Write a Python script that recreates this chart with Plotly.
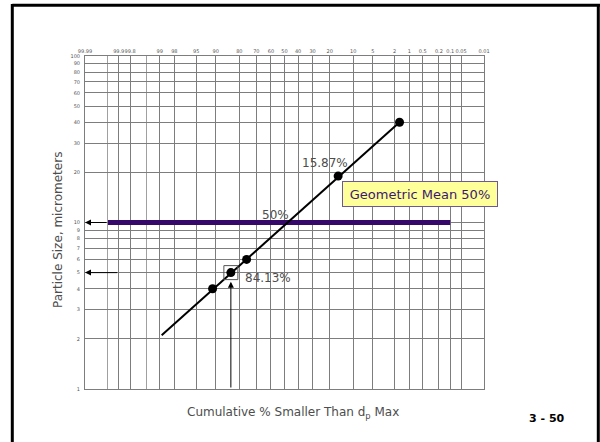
from statistics import NormalDist
import math
import plotly.graph_objects as go

# ---------------- data ----------------
x_grid_pct = [99.99, 99.9, 99.8, 99, 98, 95, 90, 80, 70, 60, 50,
              40, 30, 20, 10, 5, 2, 1, 0.5, 0.2, 0.1, 0.05, 0.01]
x_tick_labels = ["99.99", "99.9", "99.8", "99", "98", "95", "90", "80", "70", "60", "50",
                 "40", "30", "20", "10", "5", "2", "1", "0.5", "0.2", "0.1", "0.05", "0.01"]
x_minor_pct = [99.95, 99.5]
y_grid = [1, 2, 3, 4, 5, 6, 7, 8, 9, 10, 20, 30, 40, 50, 60, 70, 80, 90, 100]
y_tick_labels = [str(v) for v in y_grid]

point_pct = [91, 84.13, 76, 15.87, 1.6]
point_size = [4, 5, 6, 19, 40]
line_pct = [98.9, 1.6]
line_size = [2.1, 40]
mean_pct = [99.95, 0.1]
mean_size = [10, 10]
box_pct = [84.13]
box_size = [5]

nd = NormalDist()


def u(p):
    return nd.inv_cdf(1 - p / 100.0)


# plot area in pixels (for paper-coordinate placement of texts)
L, R, T, B = 85, 484, 56, 389
W, H = 600, 442


def px(xp):
    return (xp - L) / (R - L)


def py(yp):
    return (B - yp) / (B - T)


fig = go.Figure()

# purple geometric-mean bar
fig.add_trace(go.Scatter(x=[u(p) for p in mean_pct], y=mean_size, mode="lines",
                         line=dict(color="#36086a", width=5), hoverinfo="skip"))
# fitted line
fig.add_trace(go.Scatter(x=[u(p) for p in line_pct], y=line_size, mode="lines",
                         line=dict(color="black", width=2), hoverinfo="skip"))
# data points
fig.add_trace(go.Scatter(x=[u(p) for p in point_pct], y=point_size, mode="markers",
                         marker=dict(color="black", size=9), hoverinfo="skip"))
# open square around 84.13% point
fig.add_trace(go.Scatter(x=[u(p) for p in box_pct], y=box_size, mode="markers",
                         marker=dict(symbol="square-open", size=14,
                                     color="#555555", line=dict(width=1)),
                         hoverinfo="skip"))

grid_col = "#7d7d7d"
tick_font = dict(family="DejaVu Sans", size=5, color="#555555")
fig.update_xaxes(range=[u(99.99), u(0.01)], side="top", tickmode="array",
                 tickvals=[u(p) for p in x_grid_pct], ticktext=x_tick_labels,
                 tickangle=0,
                 showgrid=True, gridcolor=grid_col, gridwidth=1, zeroline=False,
                 showline=True, linecolor=grid_col, mirror=True, ticks="",
                 minor=dict(tickmode="array", tickvals=[u(p) for p in x_minor_pct],
                            showgrid=True, gridcolor="#a0a0a0", gridwidth=1, ticks=""),
                 tickfont=tick_font, ticklabelstandoff=0)
fig.update_yaxes(type="log", range=[0, 2], tickmode="array",
                 tickvals=y_grid, ticktext=y_tick_labels,
                 showgrid=True, gridcolor=grid_col, gridwidth=1, zeroline=False,
                 showline=True, linecolor=grid_col, mirror=True, ticks="",
                 tickfont=tick_font, ticklabelstandoff=3)

label_font = dict(family="DejaVu Sans", size=12, color="#4d4d4d")
C = dict(xref="paper", yref="paper", xanchor="center", yanchor="middle", showarrow=False)
ann = []
ann.append(dict(x=px(325), y=py(162.7), text="15.87%", font=label_font, **C))
ann.append(dict(x=px(275), y=py(215), text="50%", font=label_font, **C))
ann.append(dict(x=px(267.5), y=py(278.3), text="84.13%", font=label_font, **C))
ann.append(dict(x=px(419.5), y=py(193.7), text="Geometric Mean 50%",
                font=dict(family="DejaVu Sans", size=13, color="#3b1a6e"),
                bgcolor="#ffff99", bordercolor="#6e569a", borderwidth=1,
                borderpad=3, width=148, height=18, **C))
ann.append(dict(x=px(293), y=py(413),
                text="Cumulative % Smaller Than d<sub>p</sub> Max",
                font=dict(family="DejaVu Sans", size=12, color="#4d4d4d"), **C))
ann.append(dict(x=px(58), y=py(230), text="Particle Size, micrometers", textangle=-90,
                font=dict(family="DejaVu Sans", size=12, color="#4d4d4d"), **C))
ann.append(dict(x=px(547), y=py(418), text="<b>3 - 50</b>",
                font=dict(family="DejaVu Sans", size=11, color="black"), **C))

# arrows
A = dict(xref="x", yref="y", axref="x", ayref="y", text="", showarrow=True,
         arrowhead=2, arrowsize=1.2, arrowwidth=1, arrowcolor="black", standoff=0)
ann.append(dict(x=u(99.99), y=math.log10(10), ax=u(99.95), ay=math.log10(10), **A))
ann.append(dict(x=u(99.99), y=math.log10(5), ax=u(99.9), ay=math.log10(5), **A))
ann.append(dict(x=u(84.13), y=math.log10(4.4), ax=u(84.13), ay=0, **A))

# slide frame
shapes = [
    dict(type="line", xref="paper", yref="paper", x0=px(12.3), x1=px(603), y0=py(5.3), y1=py(5.3),
         line=dict(color="black", width=3)),
    dict(type="line", xref="paper", yref="paper", x0=px(12.3), x1=px(12.3), y0=py(4), y1=py(460),
         line=dict(color="black", width=3)),
    dict(type="line", xref="paper", yref="paper", x0=px(598.3), x1=px(598.3), y0=py(4), y1=py(460),
         line=dict(color="black", width=3)),
]

fig.update_layout(width=W, height=H, margin=dict(l=L, r=W - R, t=T, b=H - B),
                  paper_bgcolor="white", plot_bgcolor="white", showlegend=False,
                  annotations=ann, shapes=shapes,
                  font=dict(family="DejaVu Sans"))

fig.write_html("out.html",
               config={"displayModeBar": False},
               post_script="document.body.style.margin='0px';"
                           "document.body.style.overflow='hidden';")
